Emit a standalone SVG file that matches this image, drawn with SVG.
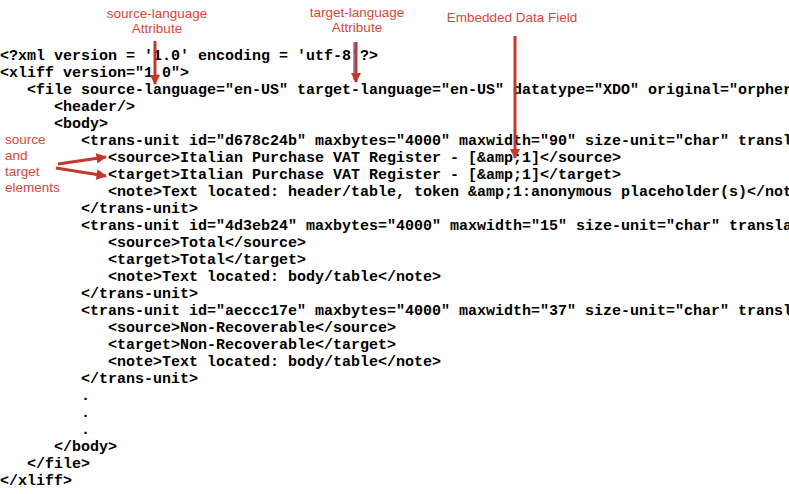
<svg xmlns="http://www.w3.org/2000/svg" width="789" height="494" viewBox="0 0 789 494">
<style>
.c{font-family:"Liberation Mono","Courier New",monospace;font-weight:bold;font-size:15px;fill:#000;white-space:pre}
.l{font-family:"Liberation Sans",Arial,sans-serif;font-size:13.5px;fill:#d9463a}
.a{stroke:#c0392b;stroke-width:3;fill:none;marker-end:url(#m)}
</style>
<defs><marker id="m" viewBox="0 0 10 10" refX="9" refY="5" markerWidth="3.5" markerHeight="4" orient="auto"><path d="M0,0L10,5L0,10z" fill="#c0392b"/></marker></defs>
<rect width="789" height="494" fill="#fff"/>
<g id="code">
<text class="c" x="0" y="60">&lt;?xml version = '1.0' encoding = 'utf-8'?&gt;</text>
<text class="c" x="0" y="77">&lt;xliff version="1.0"&gt;</text>
<text class="c" x="27" y="94">&lt;file source-language="en-US" target-language="en-US" datatype="XDO" original="orpher</text>
<text class="c" x="54" y="111">&lt;header/&gt;</text>
<text class="c" x="54" y="128">&lt;body&gt;</text>
<text class="c" x="81" y="145">&lt;trans-unit id="d678c24b" maxbytes="4000" maxwidth="90" size-unit="char" transl</text>
<text class="c" x="108" y="162">&lt;source&gt;Italian Purchase VAT Register - [&amp;amp;1]&lt;/source&gt;</text>
<text class="c" x="108" y="179">&lt;target&gt;Italian Purchase VAT Register - [&amp;amp;1]&lt;/target&gt;</text>
<text class="c" x="108" y="196">&lt;note&gt;Text located: header/table, token &amp;amp;1:anonymous placeholder(s)&lt;/not</text>
<text class="c" x="81" y="213">&lt;/trans-unit&gt;</text>
<text class="c" x="81" y="230">&lt;trans-unit id="4d3eb24" maxbytes="4000" maxwidth="15" size-unit="char" transla</text>
<text class="c" x="108" y="247">&lt;source&gt;Total&lt;/source&gt;</text>
<text class="c" x="108" y="264">&lt;target&gt;Total&lt;/target&gt;</text>
<text class="c" x="108" y="281">&lt;note&gt;Text located: body/table&lt;/note&gt;</text>
<text class="c" x="81" y="298">&lt;/trans-unit&gt;</text>
<text class="c" x="81" y="315">&lt;trans-unit id="aeccc17e" maxbytes="4000" maxwidth="37" size-unit="char" transl</text>
<text class="c" x="108" y="332">&lt;source&gt;Non-Recoverable&lt;/source&gt;</text>
<text class="c" x="108" y="349">&lt;target&gt;Non-Recoverable&lt;/target&gt;</text>
<text class="c" x="108" y="366">&lt;note&gt;Text located: body/table&lt;/note&gt;</text>
<text class="c" x="81" y="383">&lt;/trans-unit&gt;</text>
<text class="c" x="81" y="400">.</text>
<text class="c" x="81" y="417">.</text>
<text class="c" x="81" y="434">.</text>
<text class="c" x="54" y="451">&lt;/body&gt;</text>
<text class="c" x="27" y="468">&lt;/file&gt;</text>
<text class="c" x="0" y="485">&lt;/xliff&gt;</text>
</g>
<g id="labels">
<text class="l" x="157" y="18" text-anchor="middle">source-language</text>
<text class="l" x="157" y="33" text-anchor="middle">Attribute</text>
<text class="l" x="357" y="17" text-anchor="middle">target-language</text>
<text class="l" x="357" y="32" text-anchor="middle">Attribute</text>
<text class="l" x="512" y="22" text-anchor="middle">Embedded Data Field</text>
<text class="l" x="5" y="144">source</text>
<text class="l" x="5" y="160">and</text>
<text class="l" x="5" y="176">target</text>
<text class="l" x="5" y="192">elements</text>
</g>
<g id="connectors">
<line x1="354" y1="42" x2="354" y2="80" stroke="#3030d0" stroke-width="1"/>
<line class="a" x1="155" y1="41" x2="155" y2="84"/>
<line class="a" x1="356" y1="42" x2="356" y2="82"/>
<line class="a" x1="515" y1="36" x2="515" y2="158"/>
<line class="a" x1="58" y1="164" x2="106" y2="157"/>
<line class="a" x1="56" y1="168" x2="106" y2="176"/>
</g>
</svg>
